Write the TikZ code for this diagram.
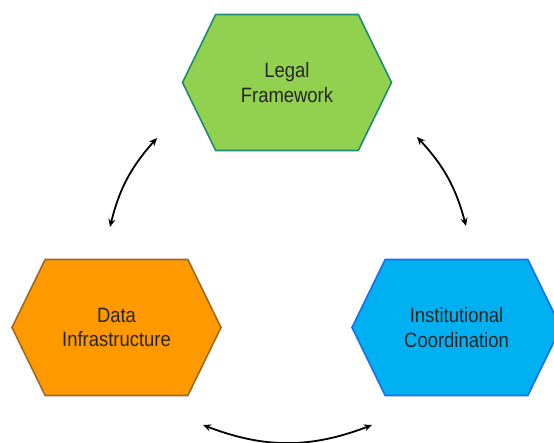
\documentclass[tikz,border=0pt]{standalone}
\usepackage{fontspec}
\setmainfont{Liberation Sans}[FakeStretch=0.89]
\usetikzlibrary{shapes.symbols,arrows.meta}

\definecolor{gronn}{RGB}{146,208,80}
\definecolor{gronnkant}{RGB}{31,139,118}
\definecolor{oransje}{RGB}{255,153,0}
\definecolor{oransjekant}{RGB}{156,106,40}
\definecolor{bla}{RGB}{0,176,240}
\definecolor{blakant}{RGB}{25,110,240}

\begin{document}
\begin{tikzpicture}[x=1bp,y=1bp,
		hexa/.style={shape=signal, signal to=west and east, signal pointer angle=128,
			minimum width=209bp, minimum height=136bp, inner sep=0pt, line width=1.6bp,
			align=center, text=black!85, font=\fontsize{20.8}{24.5}\selectfont},
		link/.style={line width=1.8bp, {Stealth[length=8bp,width=7bp]}-{Stealth[length=8bp,width=7bp]}}]
		\useasboundingbox (0,0) rectangle (554,443);
		
		% Sekskanter
		\node[hexa, fill=gronn, draw=gronnkant] (legal) at (287,360.5) {Legal\\Framework};
		\node[hexa, fill=oransje, draw=oransjekant] (data) at (116.5,115.5) {Data\\Infrastructure};
		\node[hexa, fill=bla, draw=blakant] (inst) at (456.5,115.5) {Institutional\\Coordination};
		
		% Piler mellom boksene
		\draw[link] ([shift={(-130,-55.5)}]legal.center) to[bend right=14] ([shift={(-6.5,100.5)}]data.center);
		\draw[link] ([shift={(130,-54.5)}]legal.center) to[bend left=14] ([shift={(9.5,101.5)}]inst.center);
		\draw[link] ([shift={(86.5,-97.5)}]data.center) to[bend right=21] ([shift={(-84.5,-97.5)}]inst.center);
	\end{tikzpicture}
\end{document}
